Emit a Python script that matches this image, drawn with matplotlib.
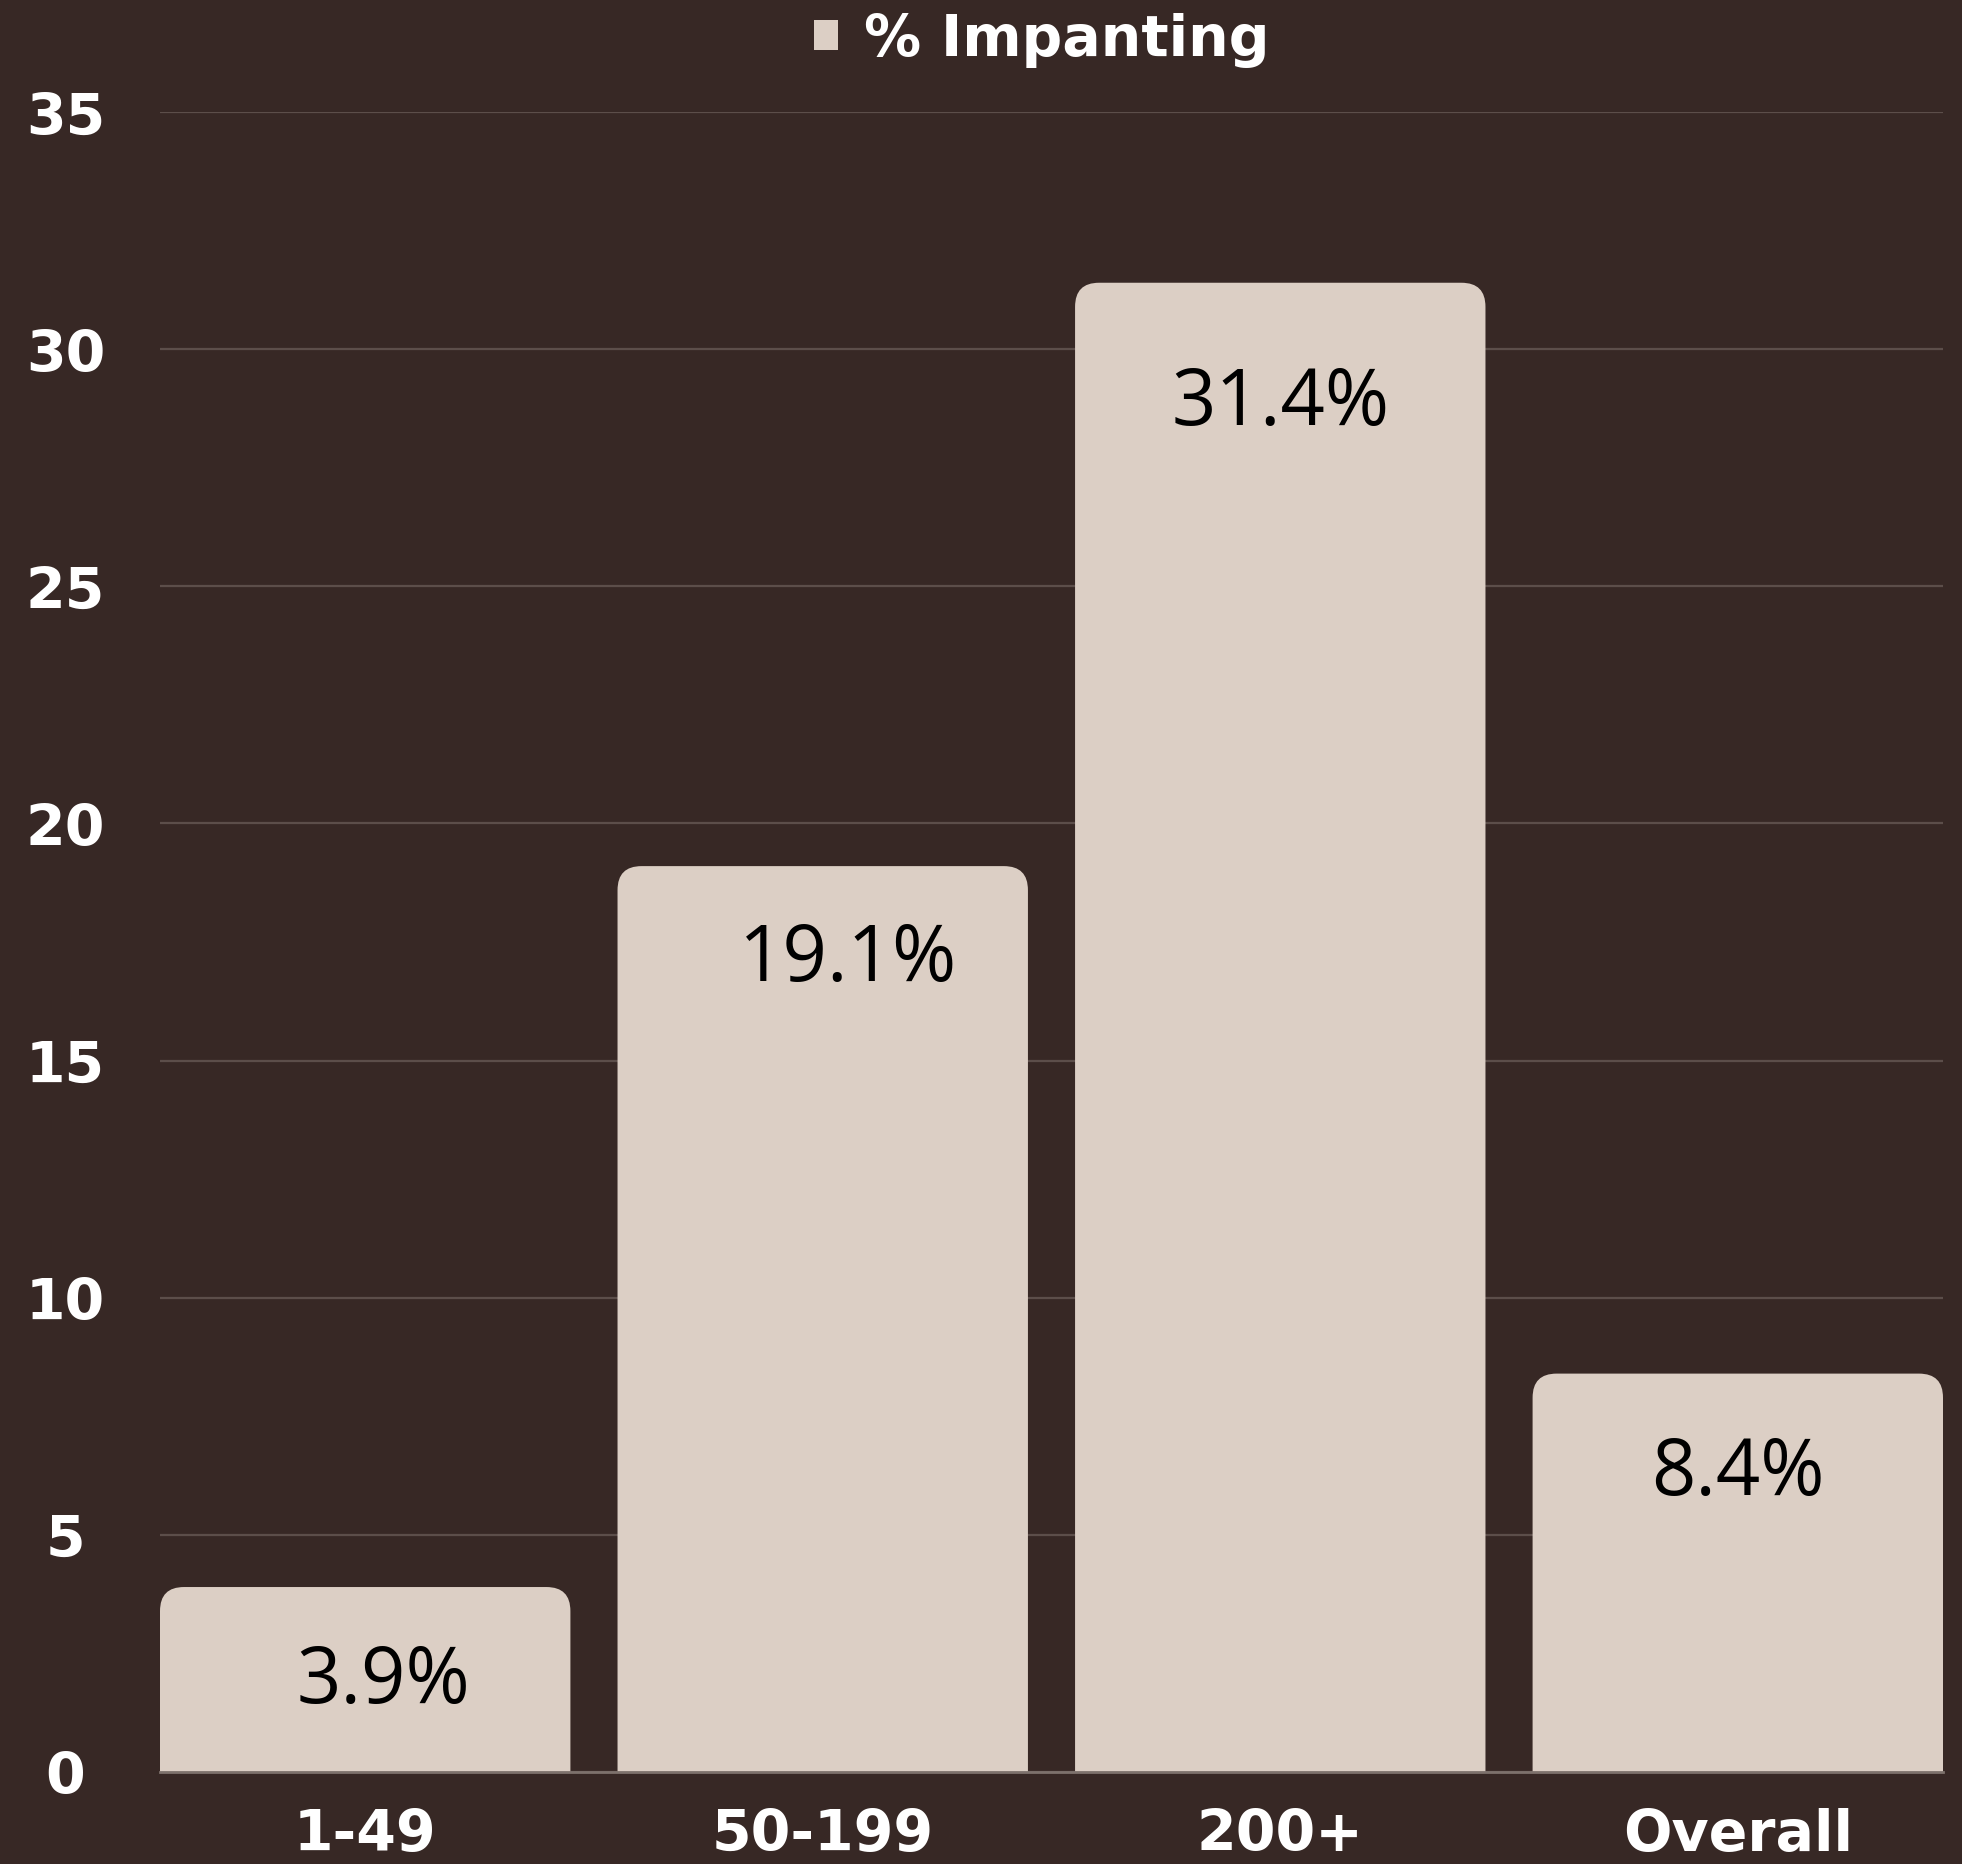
import matplotlib
matplotlib.use("Agg")
import matplotlib.pyplot as plt
from matplotlib.patches import FancyBboxPatch

categories = ["1-49", "50-199", "200+", "Overall"]
values = [3.9, 19.1, 31.4, 8.4]
value_labels = ["3.9%", "19.1%", "31.4%", "8.4%"]
series_name = "% Impanting"
yticks = [0, 5, 10, 15, 20, 25, 30, 35]

BG = "#372825"
BAR = "#dccfc5"
GRID = "#5c4e4a"
W, H, DPI = 1962, 1865, 100

fig = plt.figure(figsize=(W / DPI, H / DPI), dpi=DPI, facecolor=BG)
left, right, bottom, top = 160, 1943, 1773, 113
ax = fig.add_axes([left / W, (H - bottom) / H, (right - left) / W, (bottom - top) / H])
ax.set_facecolor(BG)

width = 0.897
x = list(range(len(categories)))
bars = ax.bar(x, values, width=width, color=BAR, zorder=3)
ax.set_xlim(-width / 2, len(categories) - 1 + width / 2)
ax.set_ylim(0, 35)

# rounded-top bars built from the library's bar rectangles
px_per_x = (right - left) / (len(categories) - 1 + width)
px_per_y = (bottom - top) / 35
r_px = 24
rx = r_px / px_per_x
aspect = px_per_x / px_per_y
for b in bars:
    b.set_visible(False)
    ext = r_px / px_per_y
    p = FancyBboxPatch((b.get_x(), -ext), b.get_width(), b.get_height() + ext,
                       boxstyle=f"round,pad=0,rounding_size={rx}",
                       mutation_aspect=aspect, facecolor=BAR, edgecolor="none",
                       zorder=3, clip_on=True)
    ax.add_patch(p)

# label placement (style): offsets below bar top / sideways in data units
label_dy = [2.0, 1.96, 2.54, 2.1]
label_dx = [0.04, 0.055, 0.0, 0.0]
for b, lab, dy, dx in zip(bars, value_labels, label_dy, label_dx):
    cx = b.get_x() + b.get_width() / 2
    ax.text(cx + dx, b.get_height() - dy, lab, ha="center", va="center",
            fontsize=56, family="Open Sans", color="black", zorder=4)

ax.set_yticks(yticks)
ax.set_xticks(x)
ax.set_xticklabels(categories)
ax.yaxis.grid(True, color=GRID, linewidth=1.6, zorder=0)
ax.set_axisbelow(True)
for s in ["left", "right", "top"]:
    ax.spines[s].set_visible(False)
ax.spines["bottom"].set_color("#7d716c")
ax.spines["bottom"].set_linewidth(2)
ax.spines["bottom"].set_zorder(5)

ax.tick_params(axis="y", length=0, pad=68, labelsize=41, labelcolor="white")
ax.tick_params(axis="x", length=0, pad=25, labelsize=41, labelcolor="white")
for lbl in ax.get_yticklabels():
    lbl.set_horizontalalignment("center")
    lbl.set_fontweight("bold")
for lbl in ax.get_xticklabels():
    lbl.set_fontweight("bold")

leg = fig.legend([bars[0]], [series_name], loc="center",
                 bbox_to_anchor=(1042 / W, 1 - 41 / H), frameon=False,
                 handlelength=0.42, handleheight=0.42, handletextpad=0.45,
                 prop={"size": 41, "weight": "bold"}, labelcolor="white")
for h in leg.legend_handles:
    h.set_visible(True)
    h.set_facecolor(BAR)

fig.savefig("out.png", dpi=DPI, facecolor=BG)
